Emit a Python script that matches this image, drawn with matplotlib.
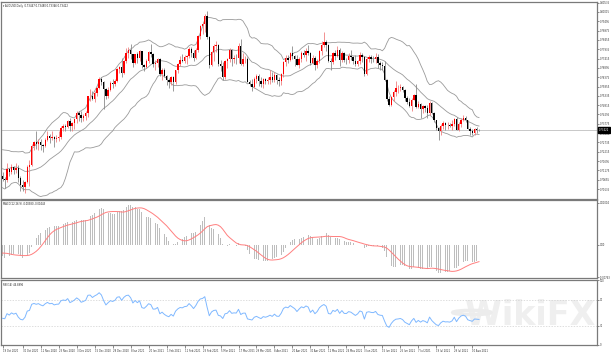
"""AUDUSD daily (MT4 style): candles + Bollinger(20,2), MACD(12,26,9), RSI(14)."""
import numpy as np
import pandas as pd
import matplotlib
matplotlib.use("Agg")
import matplotlib.pyplot as plt
from matplotlib.patches import Circle
from matplotlib.transforms import blended_transform_factory as blend

# ---------- data (19 Oct 2020 .. 13 Aug 2021) ----------
# closes before the first visible bar, only used to warm up the indicators
warmup_closes = [0.7130, 0.7157, 0.7187, 0.7200, 0.7147, 0.7155, 0.7140, 0.7150, 0.7165, 0.7165,
                 0.7200, 0.7240, 0.7170, 0.7180, 0.7160, 0.7170, 0.7210, 0.7235, 0.7260, 0.7340,
                 0.7375, 0.7395, 0.7300, 0.7280, 0.7280, 0.7245, 0.7255, 0.7286, 0.7290, 0.7300,
                 0.7310, 0.7330, 0.7290, 0.7300, 0.7220, 0.7155, 0.7050, 0.7055, 0.7035, 0.7085,
                 0.7107, 0.7162, 0.7171, 0.7150, 0.7195, 0.7130, 0.7120, 0.7155, 0.7235, 0.7188,
                 0.7165, 0.7145, 0.7075, 0.7088]

opens = [0.7088, 0.7071, 0.7063, 0.7128, 0.7106, 0.7136, 0.7118, 0.7130, 0.7073, 0.7035,
         0.7026, 0.7055, 0.7136, 0.7147, 0.7256, 0.7274, 0.7264, 0.7277, 0.7262, 0.7253,
         0.7288, 0.7312, 0.7299, 0.7306, 0.7292, 0.7301, 0.7303, 0.7352, 0.7366, 0.7362,
         0.7393, 0.7364, 0.7380, 0.7403, 0.7439, 0.7428, 0.7408, 0.7420, 0.7436, 0.7530,
         0.7535, 0.7518, 0.7551, 0.7578, 0.7629, 0.7613, 0.7569, 0.7530, 0.7568, 0.7604,
         0.7597, 0.7617, 0.7682, 0.7693, 0.7663, 0.7728, 0.7774, 0.7787, 0.7765, 0.7715,
         0.7765, 0.7743, 0.7781, 0.7704, 0.7694, 0.7728, 0.7777, 0.7766, 0.7712, 0.7714,
         0.7738, 0.7654, 0.7677, 0.7645, 0.7622, 0.7608, 0.7637, 0.7612, 0.7677, 0.7712,
         0.7734, 0.7730, 0.7749, 0.7754, 0.7796, 0.7775, 0.7746, 0.7790, 0.7866, 0.7921,
         0.7934, 0.7979, 0.7860, 0.7703, 0.7778, 0.7810, 0.7817, 0.7712, 0.7698, 0.7638,
         0.7726, 0.7737, 0.7790, 0.7737, 0.7746, 0.7742, 0.7814, 0.7713, 0.7739, 0.7741,
         0.7612, 0.7598, 0.7585, 0.7628, 0.7643, 0.7618, 0.7597, 0.7625, 0.7614, 0.7624,
         0.7641, 0.7622, 0.7650, 0.7620, 0.7618, 0.7655, 0.7722, 0.7744, 0.7736, 0.7771,
         0.7754, 0.7738, 0.7705, 0.7739, 0.7770, 0.7760, 0.7786, 0.7775, 0.7718, 0.7747,
         0.7703, 0.7730, 0.7783, 0.7815, 0.7836, 0.7818, 0.7728, 0.7722, 0.7771, 0.7757,
         0.7787, 0.7735, 0.7774, 0.7735, 0.7733, 0.7758, 0.7751, 0.7730, 0.7710, 0.7727,
         0.7761, 0.7751, 0.7654, 0.7741, 0.7749, 0.7740, 0.7737, 0.7752, 0.7715, 0.7705,
         0.7702, 0.7620, 0.7517, 0.7485, 0.7527, 0.7557, 0.7575, 0.7578, 0.7583, 0.7566,
         0.7523, 0.7500, 0.7477, 0.7512, 0.7537, 0.7470, 0.7490, 0.7460, 0.7475, 0.7463,
         0.7438, 0.7495, 0.7440, 0.7398, 0.7355, 0.7338, 0.7365, 0.7381, 0.7369, 0.7370,
         0.7365, 0.7375, 0.7406, 0.7345, 0.7378, 0.7400, 0.7408, 0.7397, 0.7350, 0.7338,
         0.7328, 0.7347, 0.7345]
highs = [0.7107, 0.7078, 0.7158, 0.7133, 0.7152, 0.7144, 0.7158, 0.7148, 0.7085, 0.7064,
         0.7060, 0.7148, 0.7173, 0.7264, 0.7282, 0.7340, 0.7290, 0.7291, 0.7264, 0.7296,
         0.7340, 0.7320, 0.7340, 0.7311, 0.7314, 0.7339, 0.7364, 0.7378, 0.7376, 0.7401,
         0.7410, 0.7387, 0.7406, 0.7450, 0.7447, 0.7450, 0.7431, 0.7448, 0.7533, 0.7571,
         0.7562, 0.7560, 0.7585, 0.7640, 0.7636, 0.7617, 0.7580, 0.7581, 0.7614, 0.7625,
         0.7630, 0.7690, 0.7702, 0.7742, 0.7735, 0.7802, 0.7805, 0.7820, 0.7768, 0.7768,
         0.7780, 0.7788, 0.7785, 0.7713, 0.7740, 0.7782, 0.7820, 0.7770, 0.7734, 0.7745,
         0.7743, 0.7689, 0.7690, 0.7648, 0.7634, 0.7645, 0.7642, 0.7680, 0.7717, 0.7756,
         0.7765, 0.7759, 0.7760, 0.7805, 0.7804, 0.7788, 0.7802, 0.7871, 0.7928, 0.7945,
         0.7989, 0.8007, 0.7870, 0.7784, 0.7822, 0.7838, 0.7820, 0.7735, 0.7722, 0.7735,
         0.7746, 0.7800, 0.7797, 0.7760, 0.7769, 0.7830, 0.7849, 0.7770, 0.7755, 0.7752,
         0.7623, 0.7625, 0.7640, 0.7656, 0.7655, 0.7640, 0.7633, 0.7635, 0.7640, 0.7677,
         0.7664, 0.7665, 0.7657, 0.7640, 0.7660, 0.7730, 0.7762, 0.7760, 0.7780, 0.7810,
         0.7760, 0.7762, 0.7750, 0.7782, 0.7788, 0.7800, 0.7817, 0.7778, 0.7764, 0.7753,
         0.7737, 0.7791, 0.7840, 0.7891, 0.7846, 0.7825, 0.7745, 0.7777, 0.7790, 0.7813,
         0.7800, 0.7782, 0.7778, 0.7745, 0.7775, 0.7792, 0.7755, 0.7760, 0.7735, 0.7776,
         0.7770, 0.7757, 0.7750, 0.7760, 0.7763, 0.7757, 0.7775, 0.7767, 0.7728, 0.7721,
         0.7727, 0.7630, 0.7533, 0.7535, 0.7565, 0.7616, 0.7592, 0.7598, 0.7588, 0.7569,
         0.7530, 0.7520, 0.7520, 0.7546, 0.7599, 0.7506, 0.7495, 0.7480, 0.7485, 0.7485,
         0.7505, 0.7497, 0.7445, 0.7401, 0.7360, 0.7375, 0.7393, 0.7385, 0.7387, 0.7384,
         0.7397, 0.7410, 0.7417, 0.7390, 0.7410, 0.7425, 0.7420, 0.7398, 0.7360, 0.7350,
         0.7355, 0.7360, 0.7348]
lows = [0.7058, 0.7022, 0.7052, 0.7085, 0.7095, 0.7097, 0.7104, 0.7053, 0.7002, 0.7003,
        0.6991, 0.7046, 0.7030, 0.7140, 0.7229, 0.7235, 0.7233, 0.7234, 0.7222, 0.7250,
        0.7282, 0.7270, 0.7285, 0.7249, 0.7278, 0.7282, 0.7290, 0.7340, 0.7340, 0.7355,
        0.7339, 0.7340, 0.7347, 0.7380, 0.7395, 0.7385, 0.7391, 0.7400, 0.7418, 0.7504,
        0.7510, 0.7501, 0.7530, 0.7573, 0.7594, 0.7462, 0.7517, 0.7520, 0.7560, 0.7577,
        0.7591, 0.7610, 0.7659, 0.7641, 0.7655, 0.7716, 0.7745, 0.7740, 0.7693, 0.7710,
        0.7717, 0.7730, 0.7690, 0.7672, 0.7690, 0.7714, 0.7748, 0.7693, 0.7675, 0.7695,
        0.7643, 0.7620, 0.7638, 0.7593, 0.7580, 0.7592, 0.7563, 0.7600, 0.7662, 0.7700,
        0.7720, 0.7719, 0.7709, 0.7746, 0.7751, 0.7730, 0.7738, 0.7780, 0.7850, 0.7880,
        0.7890, 0.7850, 0.7688, 0.7700, 0.7730, 0.7776, 0.7700, 0.7672, 0.7622, 0.7630,
        0.7690, 0.7720, 0.7701, 0.7715, 0.7710, 0.7717, 0.7703, 0.7700, 0.7716, 0.7608,
        0.7590, 0.7563, 0.7575, 0.7604, 0.7590, 0.7585, 0.7580, 0.7600, 0.7600, 0.7600,
        0.7610, 0.7610, 0.7600, 0.7587, 0.7595, 0.7640, 0.7700, 0.7718, 0.7726, 0.7740,
        0.7700, 0.7703, 0.7690, 0.7722, 0.7748, 0.7730, 0.7760, 0.7705, 0.7712, 0.7675,
        0.7690, 0.7718, 0.7760, 0.7805, 0.7785, 0.7722, 0.7675, 0.7710, 0.7734, 0.7750,
        0.7702, 0.7725, 0.7720, 0.7713, 0.7718, 0.7735, 0.7710, 0.7700, 0.7698, 0.7713,
        0.7720, 0.7645, 0.7648, 0.7720, 0.7715, 0.7720, 0.7717, 0.7690, 0.7680, 0.7677,
        0.7615, 0.7507, 0.7477, 0.7477, 0.7505, 0.7530, 0.7550, 0.7560, 0.7555, 0.7505,
        0.7490, 0.7470, 0.7447, 0.7508, 0.7465, 0.7465, 0.7410, 0.7440, 0.7445, 0.7410,
        0.7425, 0.7432, 0.7390, 0.7345, 0.7289, 0.7315, 0.7350, 0.7345, 0.7347, 0.7360,
        0.7342, 0.7365, 0.7342, 0.7340, 0.7360, 0.7395, 0.7385, 0.7348, 0.7315, 0.7315,
        0.7315, 0.7325, 0.7335]
closes = opens[1:] + [0.7342]

date_labels = ["19 Oct 2020", "30 Oct 2020", "11 Nov 2020", "23 Nov 2020", "3 Dec 2020",
               "15 Dec 2020", "28 Dec 2020", "8 Jan 2021", "20 Jan 2021", "1 Feb 2021",
               "11 Feb 2021", "23 Feb 2021", "5 Mar 2021", "17 Mar 2021", "29 Mar 2021",
               "8 Apr 2021", "20 Apr 2021", "30 Apr 2021", "12 May 2021", "24 May 2021",
               "3 Jun 2021", "15 Jun 2021", "25 Jun 2021", "7 Jul 2021", "19 Jul 2021",
               "29 Jul 2021", "10 Aug 2021"]
date_bars = [0, 9, 17, 25, 33, 41, 49, 57, 65, 73, 81, 89, 97, 105, 113, 121, 129, 137,
             145, 153, 161, 169, 177, 185, 193, 201, 209]

price_ticks = [0.80535, 0.80015, 0.79495, 0.78975, 0.78455, 0.77935, 0.77415, 0.76895,
               0.76375, 0.75855, 0.75335, 0.74815, 0.74295, 0.73775, 0.73255, 0.72735,
               0.72215, 0.71695, 0.71175, 0.70655, 0.70135]
macd_ticks = [0.01004, 0.0, -0.00763]
rsi_ticks = [100, 70, 30, 0]

title_txt = "AUDUSD,Daily  0.73447 0.73480 0.73346 0.73422"
macd_txt = "MACD(12,26,9) -0.00380 -0.00443"
rsi_txt = "RSI(14) 46.8996"
last_price = "0.73422"

# ---------- indicators (MT4 definitions on the closes) ----------
cl = pd.Series(warmup_closes + closes)
nw = len(warmup_closes)
mid = cl.rolling(20).mean()
sd = cl.rolling(20).std(ddof=0)
bb_up, bb_mid, bb_lo = (mid + 2 * sd).iloc[nw:].values, mid.iloc[nw:].values, (mid - 2 * sd).iloc[nw:].values
macd = (cl.ewm(span=12, adjust=False).mean() - cl.ewm(span=26, adjust=False).mean())
signal = macd.rolling(9).mean()
macd, signal = macd.iloc[nw:].values, signal.iloc[nw:].values
d = cl.diff()
up = d.clip(lower=0).ewm(alpha=1 / 14, adjust=False).mean()
dn = (-d.clip(upper=0)).ewm(alpha=1 / 14, adjust=False).mean()
rsi = (100 - 100 / (1 + up / dn)).iloc[nw:].values

# ---------- layout ----------
W, H = 611, 352
fig = plt.figure(figsize=(W / 100, H / 100), dpi=100)
def box(x0, y0, x1, y1): return [x0 / W, 1 - y1 / H, (x1 - x0) / W, (y1 - y0) / H]
ax = fig.add_axes(box(1, 2, 597, 199))
axm = fig.add_axes(box(1, 200, 597, 278), sharex=ax)
axr = fig.add_axes(box(1, 280, 597, 345), sharex=ax)

FS = 1.8
x = np.arange(len(closes))
o, h, l, c = map(np.array, (opens, highs, lows, closes))
bull = c >= o

# candles
ax.vlines(x[bull], l[bull], h[bull], color="#f08080", lw=0.6, zorder=2)
ax.vlines(x[~bull], l[~bull], h[~bull], color="#8a8a8a", lw=0.6, zorder=2)
body_lo = np.minimum(o, c)
body_h = np.maximum(np.abs(c - o), 0.00012)
ax.bar(x[bull], body_h[bull], bottom=body_lo[bull], width=0.62, color="#ff0000", lw=0, zorder=3)
ax.bar(x[~bull], body_h[~bull], bottom=body_lo[~bull], width=0.62, color="#000000", lw=0, zorder=3)
for band in (bb_up, bb_mid, bb_lo):
    ax.plot(x, band, color="#9a9a9a", lw=0.6, zorder=1)
ax.axhline(closes[-1], color="#c8c8c8", lw=0.7, zorder=0)
ax.set_ylim(0.6958, 0.8057)
ax.set_xlim(-0.67, 264.5)
ax.text(0.004, 0.988, "\u25be " + title_txt, transform=ax.transAxes, fontsize=FS, va="top", color="#222")
ax.annotate(last_price, xy=(1.0, closes[-1]), xycoords=blend(ax.transAxes, ax.transData),
            xytext=(1.0, 0), textcoords="offset points", fontsize=FS, va="center", ha="left",
            color="white", bbox=dict(boxstyle="square,pad=0.3", fc="black", ec="black"), zorder=5)

# MACD
axm.bar(x, macd, width=0.35, color="#bdbdbd", lw=0)
axm.plot(x, signal, color="#ff7f7f", lw=0.7)
axm.set_ylim(-0.00786, 0.01071)
axm.text(0.004, 0.97, macd_txt, transform=axm.transAxes, fontsize=FS, va="top", color="#222")

# RSI
axr.plot(x, rsi, color="#7fb8ff", lw=0.7, zorder=3)
for lvl in (70, 30):
    axr.axhline(lvl, color="#d0d0d0", lw=0.5, ls=(0, (2, 2)))
axr.set_ylim(0, 100)
axr.text(0.004, 0.96, rsi_txt, transform=axr.transAxes, fontsize=FS, va="top", color="#222")
# faint WikiFX watermark
axr.text(0.998, 0.45, "WikiFX", transform=axr.transAxes, fontsize=24, fontweight="bold",
         ha="right", va="center", color="#efefef", zorder=0)
axr.add_patch(Circle((0.79, 0.5), 0.032, transform=axr.transAxes, fc="none", ec="#ececec",
                     lw=2.5, zorder=0))

for a, ticks in ((ax, price_ticks), (axm, macd_ticks), (axr, rsi_ticks)):
    a.yaxis.tick_right()
    a.set_yticks(ticks)
    a.tick_params(axis="y", labelsize=FS, length=1.2, width=0.4, pad=0.8, colors="#333")
    for s in a.spines.values():
        s.set_color("#7a7a7a"); s.set_linewidth(0.9)
ax.set_yticklabels([f"{t:.5f}" for t in price_ticks])
axm.set_yticklabels([f"{t:.5f}" if t else "0.00" for t in macd_ticks])
axr.set_yticklabels([str(t) for t in rsi_ticks])
for a in (ax, axm):
    a.tick_params(axis="x", bottom=False, labelbottom=False)
axr.set_xticks(date_bars)
axr.set_xticklabels(date_labels, ha="left")
axr.tick_params(axis="x", labelsize=FS, length=2, width=0.4, pad=0.8, colors="#333")

fig.savefig("out.png", dpi=100, facecolor="white")
